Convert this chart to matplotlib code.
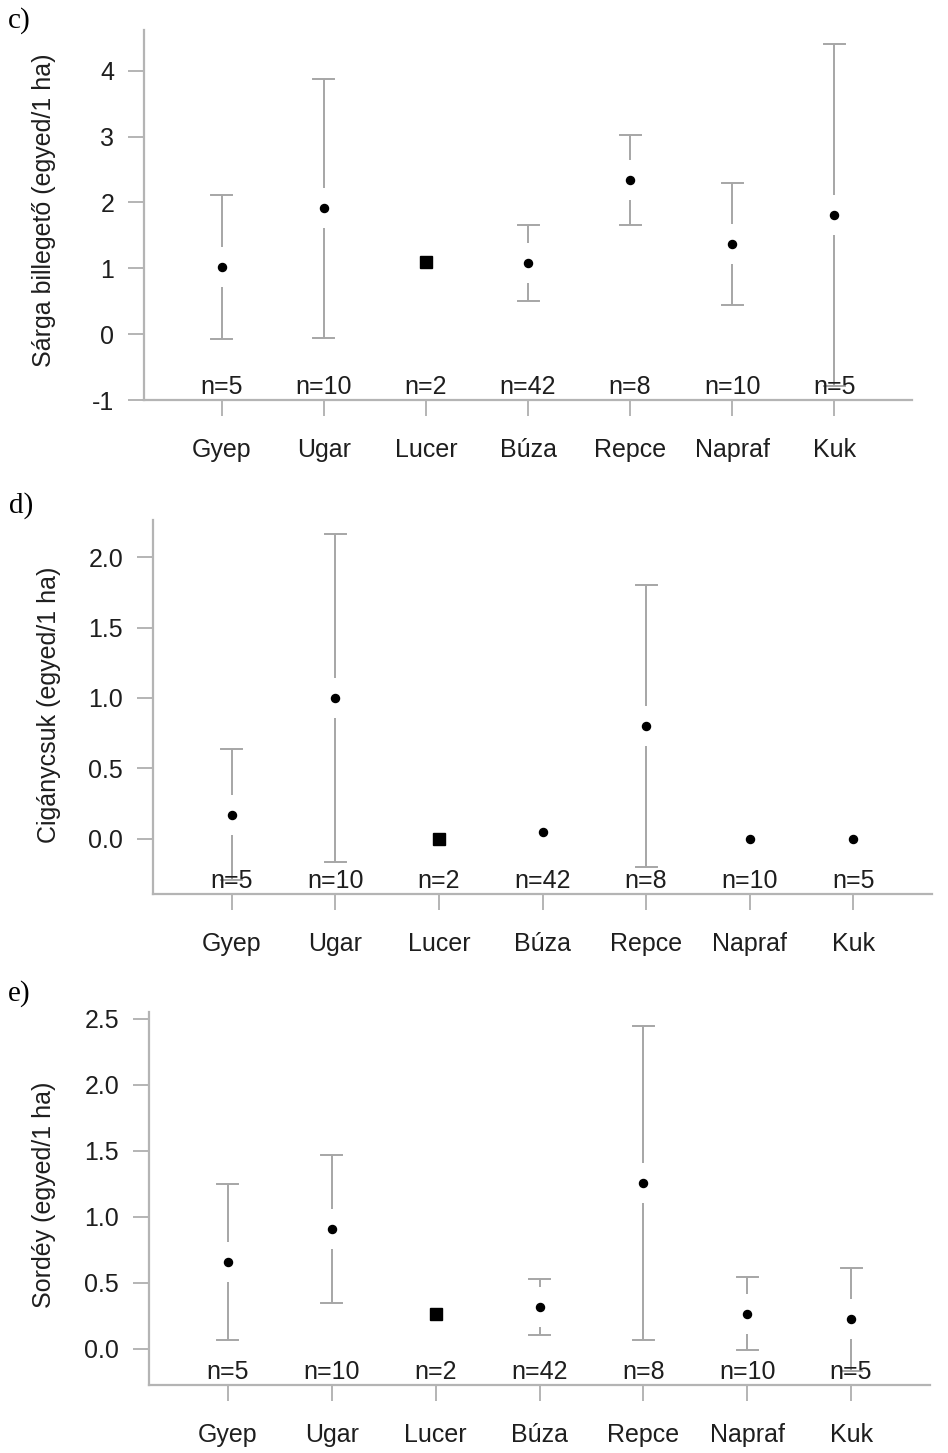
import matplotlib
matplotlib.use("Agg")
import matplotlib.pyplot as plt
import numpy as np

plt.rcParams['font.family'] = ['Liberation Sans', 'DejaVu Sans']

categories = ["Gyep", "Ugar", "Lucer", "Búza", "Repce", "Napraf", "Kuk"]
n_counts = [5, 10, 2, 42, 8, 10, 5]
square_cats = ["Lucer"]

# panel c) Sárga billegető
c_mean = [1.02, 1.91, 1.10, 1.08, 2.34, 1.37, 1.81]
c_err = [1.09, 1.97, 0.0, 0.58, 0.69, 0.93, 2.60]
c_ticks = [-1, 0, 1, 2, 3, 4]
c_ticklabels = ["-1", "0", "1", "2", "3", "4"]

# panel d) Cigánycsuk
d_mean = [0.17, 1.00, 0.00, 0.05, 0.80, 0.00, 0.00]
d_err = [0.466, 1.167, 0.0, 0.095, 1.00, 0.0, 0.0]
d_ticks = [0.0, 0.5, 1.0, 1.5, 2.0]
d_ticklabels = ["0.0", "0.5", "1.0", "1.5", "2.0"]

# panel e) Sordéy
e_mean = [0.658, 0.909, 0.259, 0.314, 1.255, 0.264, 0.221]
e_err = [0.59, 0.56, 0.0, 0.21, 1.19, 0.275, 0.392]
e_ticks = [0.0, 0.5, 1.0, 1.5, 2.0, 2.5]
e_ticklabels = ["0.0", "0.5", "1.0", "1.5", "2.0", "2.5"]

W, H = 948, 1453
fig = plt.figure(figsize=(W / 100, H / 100), dpi=100)
fig.patch.set_facecolor("white")

AXC = "#b4b4b4"
BARC = "#a6a6a6"
TXT = "#1e1e1e"
FS = 18

panels = [
    dict(letter="c)", ylabel="Sárga billegető (egyed/1 ha)", mean=c_mean, err=c_err,
         ticks=c_ticks, ticklabels=c_ticklabels,
         box=(144, 30, 912, 400), ylab_xy=(44, 210), let_xy=(19, 21)),
    dict(letter="d)", ylabel="Cigánycsuk (egyed/1 ha)", mean=d_mean, err=d_err,
         ticks=d_ticks, ticklabels=d_ticklabels,
         box=(153, 520, 932, 894), ylab_xy=(49, 705), let_xy=(21, 506)),
    dict(letter="e)", ylabel="Sordéy (egyed/1 ha)", mean=e_mean, err=e_err,
         ticks=e_ticks, ticklabels=e_ticklabels,
         box=(149, 1012, 930, 1385), ylab_xy=(44, 1195), let_xy=(19, 994)),
]

gap_px = 20
cap_px = 10.5

for p in panels:
    x0, y0, x1, y1 = p["box"]
    ax = fig.add_axes([x0 / W, 1 - y1 / H, (x1 - x0) / W, (y1 - y0) / H])
    mean = np.array(p["mean"])
    err = np.array(p["err"])
    lo = (mean - err).min()
    hi = (mean + err).max()
    rng = hi - lo
    ylim = (lo - 0.04 * rng, hi + 0.04 * rng)
    xlim = (0.24, 7.76)
    ax.set_xlim(*xlim)
    ax.set_ylim(*ylim)
    xs = np.arange(1, len(categories) + 1)

    hpx = ax.bbox.height
    wpx = ax.bbox.width
    gap = gap_px * (ylim[1] - ylim[0]) / hpx
    cap = cap_px * (xlim[1] - xlim[0]) / wpx

    for xi, m, e, cat in zip(xs, mean, err, categories):
        if e > gap:
            ax.plot([xi, xi], [m + gap, m + e], color=BARC, lw=1.4, solid_capstyle="butt", zorder=2)
            ax.plot([xi, xi], [m - gap, m - e], color=BARC, lw=1.4, solid_capstyle="butt", zorder=2)
            ax.plot([xi - cap, xi + cap], [m + e, m + e], color=BARC, lw=1.4, zorder=2)
            ax.plot([xi - cap, xi + cap], [m - e, m - e], color=BARC, lw=1.4, zorder=2)
        if cat in square_cats:
            ax.plot(xi, m, marker="s", ms=8, color="black", zorder=4, clip_on=False)
        else:
            ax.plot(xi, m, marker="o", ms=5.8, color="black", zorder=4, clip_on=False)

    for xi, n in zip(xs, n_counts):
        ax.annotate(f"n={n}", (xi, ylim[0]), xytext=(0, 4), textcoords="offset points",
                    ha="center", va="baseline", fontsize=FS, color=TXT, zorder=5)

    for s in ["top", "right"]:
        ax.spines[s].set_visible(False)
    for s in ["left", "bottom"]:
        ax.spines[s].set_color(AXC)
        ax.spines[s].set_linewidth(1.6)

    ax.set_xticks(xs)
    ax.set_xticklabels(categories)
    ax.set_yticks(p["ticks"])
    ax.set_yticklabels(p["ticklabels"])
    ax.tick_params(axis="x", length=11.5, width=1.4, color=AXC, pad=16,
                   labelsize=FS, labelcolor=TXT)
    ax.tick_params(axis="y", length=11.5, width=1.4, color=AXC, pad=10,
                   labelsize=FS, labelcolor=TXT)
    ax.set_facecolor("white")

    fig.text(p["ylab_xy"][0] / W, 1 - p["ylab_xy"][1] / H, p["ylabel"], rotation=90,
             ha="center", va="center", fontsize=FS, color=TXT)
    fig.text(p["let_xy"][0] / W, 1 - p["let_xy"][1] / H, p["letter"],
             ha="center", va="center", fontsize=21, color="black",
             family=["Liberation Serif", "DejaVu Serif"])

fig.savefig("out.png", dpi=100, facecolor="white")
